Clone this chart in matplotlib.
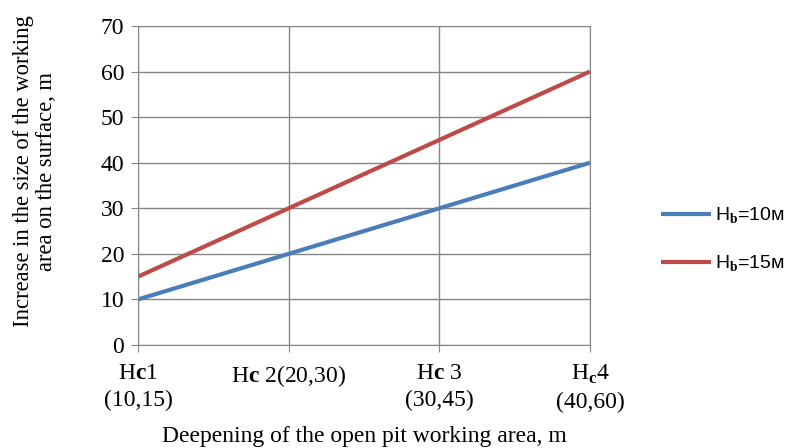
import matplotlib
matplotlib.use('Agg')
import matplotlib.pyplot as plt

# chart data
categories = ["H$\\mathbf{c}$1\n(10,15)", "H$\\mathbf{c}$ 2(20,30)", "H$\\mathbf{c}$ 3\n(30,45)", "H$_\\mathbf{c}$4\n(40,60)"]
hb10 = [10, 20, 30, 40]
hb15 = [15, 30, 45, 60]
series_names = ["H$_\\mathbf{b}$=10м", "H$_\\mathbf{b}$=15м"]

plt.rcParams['font.family'] = ['Liberation Serif', 'DejaVu Serif']
plt.rcParams['mathtext.fontset'] = 'custom'
plt.rcParams['mathtext.rm'] = 'Liberation Serif'
plt.rcParams['mathtext.bf'] = 'Liberation Serif:bold'

fig = plt.figure(figsize=(7.93, 4.48), dpi=100)
ax = fig.add_axes([138/793, 1 - 345/448, (590-138)/793, (345-26)/448])

x = range(len(categories))
l1, = ax.plot(x, hb10, color='#4A7EBB', lw=3, solid_capstyle='butt')
l2, = ax.plot(x, hb15, color='#BE4B48', lw=3, solid_capstyle='butt')

ax.set_xlim(0, 3)
ax.set_ylim(0, 70)
ax.set_yticks(range(0, 71, 10))
ax.set_xticks(list(x))
ax.set_xticklabels(categories, fontsize=17, linespacing=1.35)
ax.tick_params(axis='y', labelsize=17, length=5, color='#868686', pad=5)
ax.tick_params(axis='x', length=5, color='#868686', pad=8)
ax.grid(True, color='#868686', lw=1)
ax.set_axisbelow(True)
for s in ax.spines.values():
    s.set_color('#868686')

ax.set_xlabel('Deepening of the open pit working area, m', fontsize=17, labelpad=9)
ax.set_ylabel('Increase in the size of the working\narea on the surface, m', fontsize=16.3, linespacing=1.1)
ax.yaxis.set_label_coords(-0.18, 0.545)

leg = fig.legend([l1, l2], series_names, loc='center left', bbox_to_anchor=(643/793, 1 - 240/448),
                 frameon=False, handlelength=2.6, handletextpad=0.2, labelspacing=1.4,
                 prop={'family': ['Liberation Sans', 'DejaVu Sans'], 'size': 14})

plt.savefig('out.png', dpi=100)
